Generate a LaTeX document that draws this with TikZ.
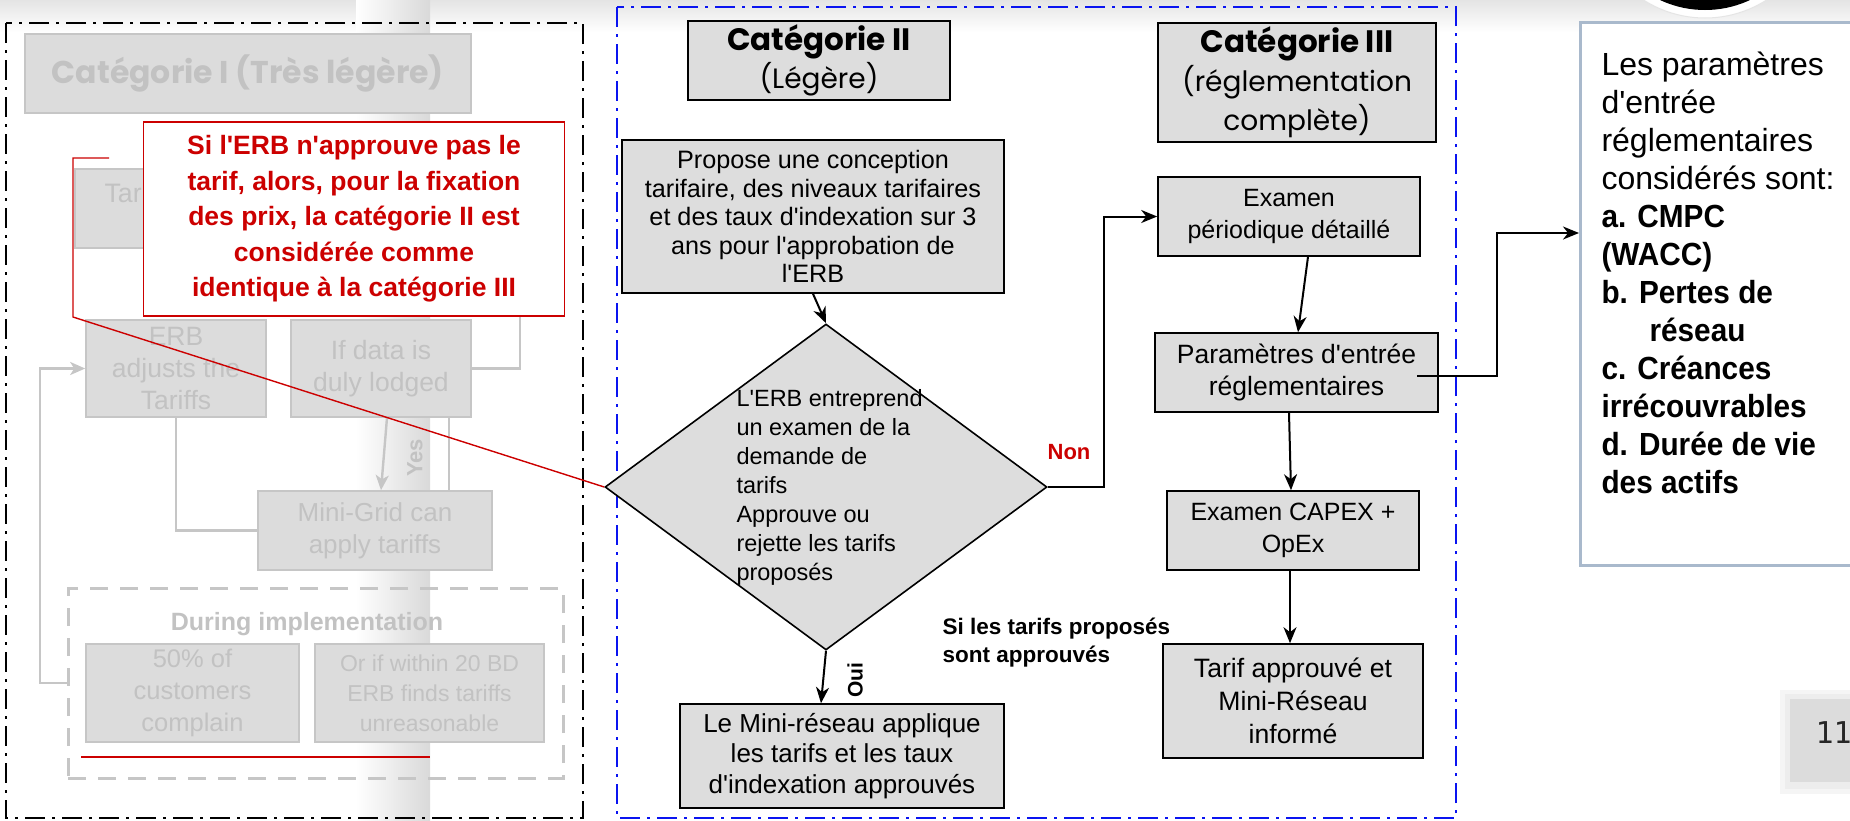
\documentclass[tikz,border=0pt]{standalone}
\usepackage{fontspec}
\setmainfont{Liberation Sans}[Ligatures=TeXOff]
\newfontfamily\comicf{Poppins}[Ligatures=TeXOff]
\newfontfamily\condf{Liberation Sans}[Ligatures=TeXOff, FakeStretch=0.93]
\newfontfamily\monof{DejaVu Sans Mono}
\usetikzlibrary{shapes.geometric,arrows.meta,calc}
\definecolor{boxgrey}{HTML}{DDDDDD}
\definecolor{fadegrey}{HTML}{DCDCDC}
\definecolor{fadeline}{HTML}{C6C6C6}
\definecolor{fadetext}{HTML}{C2C2C2}
\definecolor{calred}{HTML}{CC0000}
\definecolor{frameblue}{HTML}{0A14F0}
\definecolor{rboxline}{HTML}{A9B9CC}
\definecolor{bandgrey}{HTML}{D9D9D9}
\definecolor{topgrey}{HTML}{E4E4E4}
\newcommand\fs[2]{\fontsize{#1}{#2}\selectfont}
\begin{document}
\begin{tikzpicture}[x=1pt,y=-1pt,
  box/.style={draw=black, line width=1.6pt, fill=boxgrey, inner sep=0pt, align=center, text=black},
  gbox/.style={draw=fadeline, line width=1.6pt, fill=fadegrey, inner sep=0pt, align=center, text=fadetext},
  conn/.style={draw=black, line width=2pt, -{Stealth[length=16pt,width=13pt,inset=5pt]}},
  gline/.style={draw=fadeline, line width=2.4pt},
  garr/.style={draw=fadeline, line width=2.4pt, -{Stealth[length=15pt,width=13pt,inset=4pt]}},
  frameblack/.style={draw=black, line width=2pt, dash pattern=on 20pt off 7pt on 3pt off 7pt},
  frameb/.style={draw=frameblue, line width=2.2pt, dash pattern=on 20pt off 7pt on 3pt off 7pt},
  redline/.style={draw=calred, line width=1.4pt},
]
\useasboundingbox (0,0) rectangle (1850,820);
\clip (0,0) rectangle (1850,820);
\fill[white] (0,0) rectangle (1850,820);
% background shading
\shade[top color=topgrey, bottom color=white] (0,0) rectangle (1850,32);
\shade[left color=white, right color=bandgrey] (356,0) rectangle (430,820);
% logo circle top right
\fill[white] (1705,-96) circle (114);
\draw[draw=black!10, line width=1pt] (1705,-96) circle (114);
\fill[black] (1705,-96) circle (106);
% page number box
\fill[black!4] (1780,690) rectangle (1860,794);
\fill[black!7] (1785,694) rectangle (1860,789);
\node[fill=fadegrey, minimum width=80pt, minimum height=83pt, inner sep=0pt, anchor=north west] (pg) at (1790,699) {};
\node[anchor=west, font=\monof\fs{30}{34}, text=black!85] (pgnum) at (1812,733) {11};

% frames
\draw[frameblack] (6,23) rectangle (583,818);
\draw[frameb] (617,7) rectangle (1456,818);

% ---------- faded category I ----------
\node[gbox, minimum width=446pt, minimum height=79pt] (catI) at (248,73.5)
  {\comicf\bfseries\fs{31.5}{34}Catégorie I (Très légère)};
\node[gbox, minimum width=256pt, minimum height=79pt, anchor=north west] (tarbox) at (74,168) {};
\node[anchor=west, text=fadetext, font=\fs{26.7}{31.7}] (tartext) at (101,193) {Tar};
\coordinate (hid) at (520,300);
\node[gbox, minimum width=180pt, minimum height=97pt, font=\fs{26.5}{31.7}] (erbadj) at (176,368.5)
  {ERB\\adjusts the\\Tariffs};
\node[gbox, minimum width=180pt, minimum height=97pt, font=\fs{26.5}{31.7}] (ifdata) at (381,368.5)
  {If data is\\duly lodged};
\node[gbox, minimum width=234pt, minimum height=79pt, font=\fs{26}{31.7}] (minigrid) at (375,530.5)
  {Mini-Grid can\\apply tariffs};
\node[draw=fadeline, line width=3pt, dash pattern=on 18pt off 12pt, minimum width=495pt, minimum height=190pt, inner sep=0pt] (impl) at (315.5,683) {};
\node[text=fadetext, font=\bfseries\fs{25}{30}] (impltext) at (307,624) {During implementation};
\node[gbox, minimum width=213pt, minimum height=98pt, font=\fs{25.5}{31.7}] (pct) at (192.5,693)
  {50\% of\\customers\\complain};
\node[gbox, minimum width=229pt, minimum height=98pt, font=\fs{23}{30}] (orif) at (429.5,693)
  {Or if within 20 BD\\ERB finds tariffs\\unreasonable};
\draw[gline] (erbadj.south) |- (minigrid.west);
\draw[garr] ([xshift=6pt]ifdata.south) -- ([xshift=6pt]minigrid.north);
\draw[gline] ([xshift=68pt]ifdata.south) -- ([xshift=74pt]minigrid.north);
\draw[gline] (hid) |- (ifdata.east);
\draw[garr] (impl.west) -- (40,683) |- (erbadj.west);
\node[rotate=90, text=fadetext, font=\bfseries\fs{22}{26}] (yes) at (415,458) {Yes};
\draw[redline, line width=2pt] (81,757) -- (430,757);

% ---------- category II ----------
\node[box, minimum width=262pt, minimum height=79pt, font=\fs{31}{38}] (catII) at (819,60.5)
  {{\comicf\bfseries Catégorie II}\\{\comicf\fs{28}{38}(Légère)}};
\node[box, minimum width=382pt, minimum height=153pt, font=\fs{25.2}{28.5}] (propose) at (813,216.5)
  {Propose une conception\\tarifaire, des niveaux tarifaires\\et des taux d'indexation sur 3\\ans pour l'approbation de\\l'ERB};
\coordinate (calloutpt) at (109,158);
\node[draw=black, line width=1.6pt, fill=boxgrey, shape=diamond, minimum width=442pt, minimum height=326pt, inner sep=0pt] (dia) at (826,487) {};
\draw[redline] (calloutpt) -- (73,158) -- (73,317) -- (dia.west);
\node[anchor=west, align=left, font=\fs{23.5}{29}] (diatext) at (733,487)
  {L'ERB entreprend\\un examen de la\\demande de\\tarifs\\Approuve ou\\rejette les tarifs\\proposés};
\node[box, minimum width=324pt, minimum height=104pt, font=\fs{26}{30.7}] (minires) at (842,756)
  {Le Mini-réseau applique\\les tarifs et les taux\\d'indexation approuvés};
\draw[conn] (propose.south) -- (dia.north);
\draw[conn] (dia.south) -- ([xshift=-21pt]minires.north);
\node[rotate=90, font=\bfseries\fs{21}{26}] (oui) at (855,680) {Oui};
\node[anchor=west, align=left, font=\bfseries\fs{22.5}{28.3}] (silab) at (939,642.5)
  {Si les tarifs proposés\\sont approuvés};

% ---------- category III ----------
\node[box, minimum width=278pt, minimum height=119pt, font=\fs{31}{39}] (catIII) at (1297,82.5)
  {{\comicf\bfseries Catégorie III}\\{\comicf\fs{28}{39}(réglementation}\\{\comicf\fs{28}{39}complète)}};
\node[box, minimum width=262pt, minimum height=79pt, font=\fs{25}{31.7}] (exper) at (1289,216.5)
  {Examen\\périodique détaillé};
\node[box, minimum width=283pt, minimum height=79pt, font=\fs{26.5}{31.7}] (param) at (1296.5,372.5)
  {Paramètres d'entrée\\réglementaires};
\node[box, minimum width=252pt, minimum height=79pt, font=\fs{25}{31.7}] (capex) at (1293,530.5)
  {Examen CAPEX +\\OpEx};
\node[box, minimum width=260.5pt, minimum height=114pt, font=\fs{26.6}{32.7}] (tarif) at (1293,701)
  {Tarif approuvé et\\Mini-Réseau\\informé};
\draw[conn] (dia.east) -- (1104,487) |- (exper.west);
\node[text=calred, font=\bfseries\fs{22}{26}] (non) at (1069,452) {Non};
\draw[conn] ([xshift=19pt]exper.south) -- ([xshift=1.5pt]param.north);
\draw[conn] ([xshift=-7.5pt]param.south) -- ([xshift=-2pt]capex.north);
\draw[conn] ([xshift=-3pt]capex.south) -- ([xshift=-3pt]tarif.north);

% ---------- right info box ----------
\node[draw=rboxline, line width=3pt, fill=white, minimum width=300pt, minimum height=543pt, inner sep=0pt, anchor=north west] (rbox) at (1579,21) {};
\coordinate (pout) at (1417,376);
\coordinate (rin) at (1579,233);
\draw[conn] (pout) -- (1497,376) |- (rin);
\node[anchor=west, align=left, font=\fs{32}{38}] (rtext) at (1598,273)
  {Les paramètres\\d'entrée\\réglementaires\\considérés sont:\\
   {\condf\bfseries a. CMPC}\\{\condf\bfseries (WACC)}\\{\condf\bfseries b. Pertes de}\\\hspace*{48pt}{\condf\bfseries réseau}\\
   {\condf\bfseries c. Créances}\\{\condf\bfseries irrécouvrables}\\{\condf\bfseries d. Durée de vie}\\{\condf\bfseries des actifs}};

% ---------- red callout ----------
\node[draw=calred, line width=1.4pt, fill=white, minimum width=420.5pt, minimum height=194pt, inner sep=0pt, align=center, text=calred, font=\bfseries\fs{26.5}{35.5}] (callout) at (354,219)
  {Si l'ERB n'approuve pas le\\tarif, alors, pour la fixation\\des prix, la catégorie II est\\considérée comme\\identique à la catégorie III};
\end{tikzpicture}
\end{document}
